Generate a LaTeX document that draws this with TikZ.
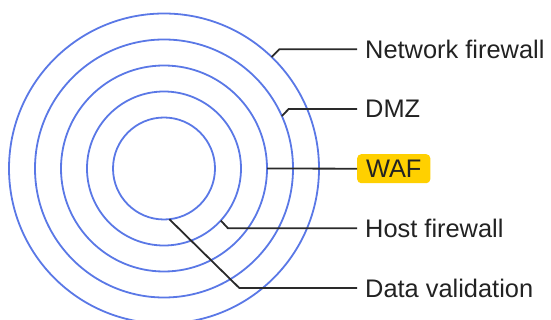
\documentclass[tikz,border=0pt]{standalone}
\usepackage{fontspec}
\setmainfont{Liberation Sans}
\begin{document}
\begin{tikzpicture}[x=1pt,y=-1pt,
  ring/.style={draw=ringblue,line width=1.8pt},
  leader/.style={draw=leadgray,line width=1.8pt},
  lbl/.style={anchor=west,inner sep=0pt,text=txtgray,font=\fontsize{25.4}{28}\selectfont},
  hl/.style={fill=wafyellow,rounded corners=4pt,inner xsep=8.8pt,inner ysep=0pt,minimum height=29pt,text=txtgray,font=\fontsize{25.4}{28}\selectfont,anchor=west}]
\definecolor{ringblue}{HTML}{5A78E6}
\definecolor{leadgray}{HTML}{2A2A2A}
\definecolor{txtgray}{HTML}{222222}
\definecolor{wafyellow}{HTML}{FFD000}
\useasboundingbox (0,0) rectangle (551,320);
\coordinate (c) at (164,168.5);
\foreach \r in {51,77,103,129,155} \draw[ring] (c) circle[radius=\r];
% anchor points on rings
\path (c) ++(-46:155) coordinate (p1);
\path (c) ++(-24:129) coordinate (p2);
\path (c) ++(0:103) coordinate (p3);
\path (c) ++(42.5:77) coordinate (p4);
\path (c) ++(84:51) coordinate (p5);
% labels
\node[lbl] (l1) at (365,49.3) {Network firewall};
\node[lbl] (l2) at (365,109) {DMZ};
\node[hl] (l3) at (357,168.7) {WAF};
\node[lbl] (l4) at (365,228.3) {Host firewall};
\node[lbl] (l5) at (365,288) {Data validation};
% leaders
\draw[leader] (p1) -- (279.3,49.3) -- ([xshift=-8pt]l1.west);
\draw[leader] (p2) -- (288.7,109) -- ([xshift=-8pt]l2.west);
\draw[leader] (p3) -- (l3.west);
\draw[leader] (p4) -- (228,228.3) -- ([xshift=-8pt]l4.west);
\draw[leader] (p5) -- (239.3,288) -- ([xshift=-8pt]l5.west);
\end{tikzpicture}
\end{document}
